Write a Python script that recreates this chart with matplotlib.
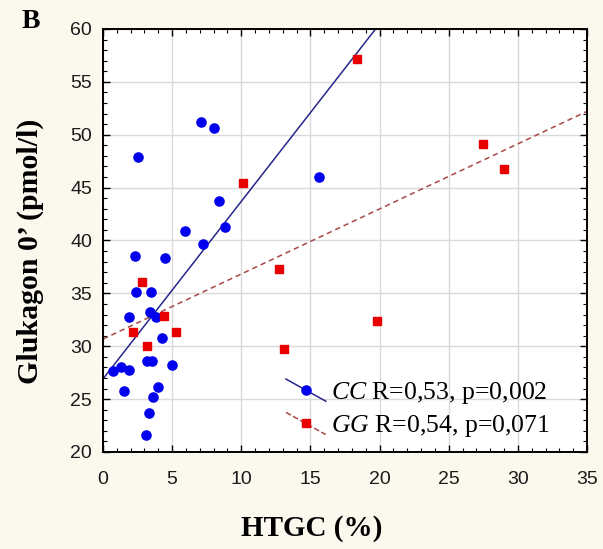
import numpy as np
import matplotlib
matplotlib.use("Agg")
import matplotlib.pyplot as plt
from matplotlib.legend_handler import HandlerBase
from matplotlib.lines import Line2D
from matplotlib.ticker import MultipleLocator

plt.rcParams["mathtext.fontset"] = "custom"
plt.rcParams["mathtext.rm"] = "Liberation Serif"
plt.rcParams["mathtext.it"] = "Liberation Serif:italic"

# CC genotype: HTGC (%) vs glucagon 0' (pmol/l)
cc_htgc = [2.5, 7.1, 8.0, 8.4, 5.9, 8.8, 7.2, 2.3, 4.5, 15.6,
           2.4, 3.45, 1.85, 3.4, 3.8, 4.3, 0.75, 1.3, 1.9, 3.15,
           3.55, 5.0, 1.55, 4.0, 3.65, 3.3, 3.1]
cc_glucagon = [47.9, 51.2, 50.6, 43.7, 40.9, 41.3, 39.7, 38.5, 38.3, 46.0,
               35.1, 35.1, 32.8, 33.2, 32.8, 30.8, 27.7, 28.0, 27.8, 28.6,
               28.6, 28.2, 25.8, 26.1, 25.2, 23.7, 21.6]

# GG genotype
gg_htgc = [2.8, 2.2, 4.4, 5.3, 3.2, 10.1, 12.75, 13.1, 18.4, 19.8, 27.5, 29.0]
gg_glucagon = [36.1, 31.3, 32.9, 31.3, 30.05, 45.4, 37.3, 29.7, 57.2, 32.4, 49.1, 46.8]

cc_label = r"$\mathit{CC}$ R=0,53, p=0,002"
gg_label = r"$\mathit{GG}$ R=0,54, p=0,071"

BG = "#fbf8ee"


class SlopedHandler(HandlerBase):
    # legend key drawn as a short falling line with the marker in the middle
    def create_artists(self, legend, orig, xdescent, ydescent, width, height, fontsize, trans):
        x = np.array([0.0, width]) - xdescent
        y = np.array([height, 0.0]) - ydescent
        line = Line2D(x, y, color=orig.get_color(), linestyle=orig.get_linestyle(),
                      linewidth=orig.get_linewidth())
        mark = Line2D([x.mean()], [y.mean()], marker=orig.get_marker(), linestyle="none",
                      markersize=orig.get_markersize(), markerfacecolor=orig.get_markerfacecolor(),
                      markeredgecolor=orig.get_markeredgecolor())
        line.set_transform(trans)
        mark.set_transform(trans)
        return [line, mark]


fig = plt.figure(figsize=(6.03, 5.49), dpi=100, facecolor=BG)
ax = fig.add_axes([0.1708, 0.1767, 0.8027, 0.7705])
ax.set_facecolor("white")

xs = np.array([0.0, 35.0])
cc_fit = np.polyfit(cc_htgc, cc_glucagon, 1)
gg_fit = np.polyfit(gg_htgc, gg_glucagon, 1)

ax.plot(xs, np.polyval(cc_fit, xs), color="#26268c", lw=1.1, zorder=2)
ax.plot(xs, np.polyval(gg_fit, xs), color="#a84848", lw=1.1, ls=(0, (3.5, 2.5)), zorder=2)

ax.plot(cc_htgc, cc_glucagon, "o", color="#0000ee", ms=6.6, mec="#0000ee", zorder=3)
ax.plot(gg_htgc, gg_glucagon, "s", color="#e80000", ms=6.2, mec="#e80000", zorder=3)

ax.set_xlim(0, 35)
ax.set_ylim(20, 60)
ax.xaxis.set_major_locator(MultipleLocator(5))
ax.yaxis.set_major_locator(MultipleLocator(5))
ax.xaxis.set_minor_locator(MultipleLocator(1))
ax.yaxis.set_minor_locator(MultipleLocator(1))
ax.grid(True, which="major", color="#d9d9d9", lw=1.0, zorder=0)
ax.set_axisbelow(True)

ax.tick_params(which="both", direction="in", top=True, right=True, color="black")
ax.tick_params(which="major", length=5, width=1.0)
ax.tick_params(which="minor", length=3, width=0.8)
ax.tick_params(axis="x", pad=14, labelsize=14)
ax.tick_params(axis="y", pad=8, labelsize=14)
for lab in ax.get_xticklabels() + ax.get_yticklabels():
    lab.set_fontfamily("Liberation Sans")
    lab.set_color("#1a1a1a")
for sp in ax.spines.values():
    sp.set_linewidth(1.4)

h_cc = Line2D([], [], color="#26268c", lw=1.1, marker="o", ms=6.6,
              markerfacecolor="#0000ee", markeredgecolor="#0000ee")
h_gg = Line2D([], [], color="#a84848", lw=1.1, ls=(0, (2.5, 2.5)), marker="s", ms=6.2,
              markerfacecolor="#e80000", markeredgecolor="#e80000")
ax.legend([h_cc, h_gg], [cc_label, gg_label], handler_map={Line2D: SlopedHandler()},
          loc="lower left", bbox_to_anchor=(0.378, 0.03), frameon=False,
          prop={"family": "Liberation Serif", "size": 18.5},
          handlelength=1.55, handleheight=0.95, handletextpad=0.2,
          labelspacing=0.25, borderpad=0, borderaxespad=0)

fig.text(312 / 603, 1 - 528 / 549, "HTGC (%)", ha="center", va="center",
         family="Liberation Serif", weight="bold", size=21)
fig.text(30 / 603, 1 - 251 / 549, "Glukagon 0’ (pmol/l)", ha="center", va="center",
         rotation=90, family="Liberation Serif", weight="bold", size=21.5)
fig.text(31 / 603, 1 - 22 / 549, "B", ha="center", va="center",
         family="Liberation Serif", weight="bold", size=20)

fig.savefig("out.png", dpi=100, facecolor=BG)
